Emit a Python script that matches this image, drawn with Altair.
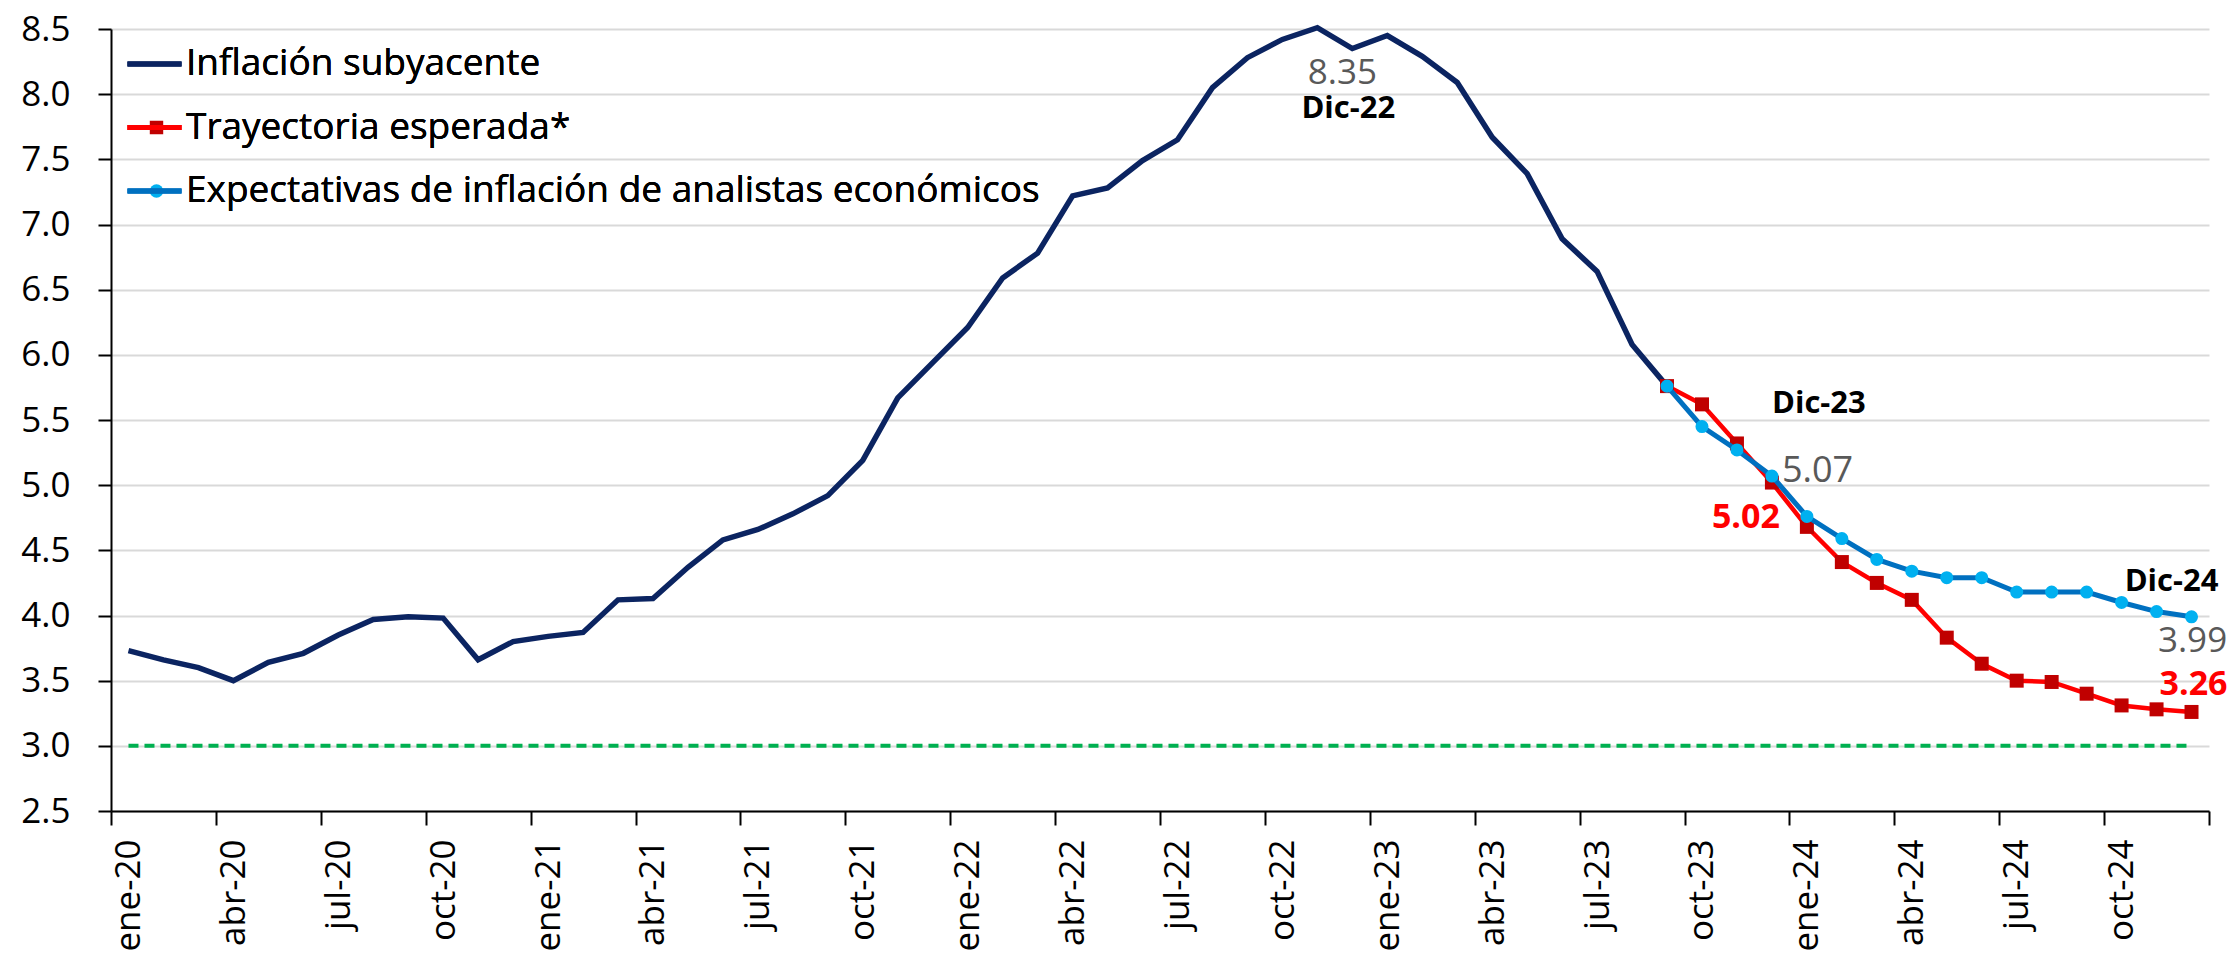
import json
import altair as alt
import pandas as pd

# ---------------- data ----------------
serie_names = ["Inflación subyacente", "Trayectoria esperada*",
               "Expectativas de inflación de analistas económicos"]

# monthly core inflation, ene-20 .. sep-23
core = [3.73, 3.66, 3.60, 3.50, 3.64, 3.71, 3.85, 3.97, 3.99, 3.98, 3.66, 3.80,
        3.84, 3.87, 4.12, 4.13, 4.37, 4.58, 4.66, 4.78, 4.92, 5.19, 5.67, 5.94,
        6.21, 6.59, 6.78, 7.22, 7.28, 7.49, 7.65, 8.05, 8.28, 8.42, 8.51, 8.35,
        8.45, 8.29, 8.09, 7.67, 7.39, 6.89, 6.64, 6.08, 5.76]
# sep-23 .. dic-24
trayectoria = [5.76, 5.62, 5.32, 5.02, 4.68, 4.41, 4.25, 4.12, 3.83, 3.63, 3.50,
               3.49, 3.40, 3.31, 3.28, 3.26]
expectativas = [5.76, 5.45, 5.27, 5.07, 4.76, 4.59, 4.43, 4.34, 4.29, 4.29, 4.18,
                4.18, 4.18, 4.10, 4.03, 3.99]
forecast_start = 44          # month index of sep-23
n_months = 60                # ene-20 .. dic-24
target = [3.0] * n_months    # inflation target

tick_labels = ["ene-20", "abr-20", "jul-20", "oct-20", "ene-21", "abr-21", "jul-21",
               "oct-21", "ene-22", "abr-22", "jul-22", "oct-22", "ene-23", "abr-23",
               "jul-23", "oct-23", "ene-24", "abr-24", "jul-24", "oct-24"]
tick_months = [0, 3, 6, 9, 12, 15, 18, 21, 24, 27, 30, 33, 36, 39, 42, 45, 48, 51,
               54, 57, 60]
y_ticks = [2.5, 3.0, 3.5, 4.0, 4.5, 5.0, 5.5, 6.0, 6.5, 7.0, 7.5, 8.0, 8.5]

colors_line = ["#0B2461", "#FF0000", "#0070C0"]
colors_marker = ["rgba(0,0,0,0)", "#C00000", "#00B0F0"]
shapes_marker = ["circle", "square", "circle"]

# ---------------- frames ----------------
df_core = pd.DataFrame({"x": [i + 0.5 for i in range(len(core))], "value": core,
                        "serie": serie_names[0]})
df_tray = pd.DataFrame({"x": [forecast_start + i + 0.5 for i in range(len(trayectoria))],
                        "value": trayectoria, "serie": serie_names[1]})
df_exp = pd.DataFrame({"x": [forecast_start + i + 0.5 for i in range(len(expectativas))],
                       "value": expectativas, "serie": serie_names[2]})
df_target = pd.DataFrame({"x": [i + 0.5 for i in range(n_months)], "value": target})

W, H = 2098, 782
FONT = "Open Sans"

label_expr = "datum.value < 60 ? " + json.dumps(tick_labels) + "[round(datum.value / 3)] : ''"

x_enc = alt.X("x:Q", scale=alt.Scale(domain=[0, n_months], nice=False, zero=False),
              axis=alt.Axis(values=tick_months, labelExpr=label_expr, labelAngle=-90,
                            labelOffset=W / n_months / 2, labelFlush=False,
                            labelOverlap=False, labelFont=FONT, labelFontSize=35,
                            labelColor="black", labelPadding=14, tickSize=14,
                            tickWidth=2, tickColor="black", domainColor="black",
                            domainWidth=2, grid=False, title=None))
y_enc = alt.Y("value:Q", scale=alt.Scale(domain=[2.5, 8.5], nice=False, zero=False),
              axis=alt.Axis(values=y_ticks, format=".1f", labelFont=FONT,
                            labelFontSize=35, labelColor="black", labelPadding=28,
                            tickSize=13, tickWidth=2, tickColor="black",
                            domainColor="black", domainWidth=2, grid=True,
                            gridColor="#D9D9D9", gridWidth=2, title=None))

line_legend = alt.Legend(orient="none", legendX=14, legendY=10, title=None,
                         symbolType="stroke", symbolSize=2916, symbolStrokeWidth=5,
                         labelFont=FONT, labelFontSize=37, labelColor="black",
                         labelOffset=2, labelLimit=2000, rowPadding=13.5,
                         clipHeight=50, padding=0)
marker_legend = alt.Legend(orient="none", legendX=27, legendY=10, title=None,
                           symbolSize=180, symbolStrokeWidth=0, symbolOpacity=1,
                           labelFont=FONT, labelFontSize=37, labelExpr="''",
                           labelOffset=2, labelLimit=2000,
                           rowPadding=13.5, clipHeight=50, padding=0)

color_enc = alt.Color("serie:N", scale=alt.Scale(domain=serie_names, range=colors_line),
                      legend=line_legend)
fill_enc = alt.Fill("serie:N", scale=alt.Scale(domain=serie_names, range=colors_marker),
                    legend=marker_legend)
shape_enc = alt.Shape("serie:N", scale=alt.Scale(domain=serie_names, range=shapes_marker),
                      legend=marker_legend)

target_layer = alt.Chart(df_target).mark_line(
    color="#00B050", strokeWidth=4, strokeDash=[10, 6]).encode(x=x_enc, y=y_enc)
core_layer = alt.Chart(df_core).mark_line(strokeWidth=5.5).encode(
    x=x_enc, y=y_enc, color=color_enc)
tray_line = alt.Chart(df_tray).mark_line(strokeWidth=4.5).encode(
    x=x_enc, y=y_enc, color=color_enc)
tray_pts = alt.Chart(df_tray).mark_point(filled=True, opacity=1, size=196).encode(
    x=x_enc, y=y_enc, fill=fill_enc, shape=shape_enc)
exp_line = alt.Chart(df_exp).mark_line(strokeWidth=5).encode(
    x=x_enc, y=y_enc, color=color_enc)
exp_pts = alt.Chart(df_exp).mark_point(filled=True, opacity=1, size=170).encode(
    x=x_enc, y=y_enc, fill=fill_enc, shape=shape_enc)

# ---------------- annotations ----------------
ann_text = ["8.35", "Dic-22", "Dic-23", "5.07", "5.02", "Dic-24", "3.99", "3.26"]
ann_x = [35.5, 35.5, 47.5, 47.5, 47.5, 59.5, 59.5, 59.5]
ann_y = [core[35], core[35], expectativas[3], expectativas[3], trayectoria[3],
         expectativas[15], expectativas[15], trayectoria[15]]
ann_style = [  # dx, dy, color, weight, size, align
    (-10, 35, "#595959", "normal", 35, "center"),
    (-4, 69, "black", "bold", 31, "center"),
    (47, -63, "black", "bold", 31, "center"),
    (10, 6, "#595959", "normal", 36, "left"),
    (8, 45, "#FF0000", "bold", 34, "right"),
    (-20, -26, "black", "bold", 31, "center"),
    (1, 35, "#595959", "normal", 35, "center"),
    (2, -17, "#FF0000", "bold", 34, "center"),
]

ann_layers = []
for t, xv, yv, st in zip(ann_text, ann_x, ann_y, ann_style):
    dx, dy, col, wt, sz, al = st
    d = pd.DataFrame({"x": [xv], "value": [yv], "t": [t]})
    ann_layers.append(
        alt.Chart(d).mark_text(dx=dx, dy=dy, color=col, fontWeight=wt, fontSize=sz,
                               font=FONT, align=al, baseline="alphabetic").encode(
            x=alt.X("x:Q"), y=alt.Y("value:Q"), text="t:N"))

chart = alt.layer(target_layer, core_layer, tray_line, tray_pts, exp_line, exp_pts,
                  *ann_layers).resolve_scale(color="independent").properties(
    width=W, height=H,
    autosize=alt.AutoSizeParams(type="none"),
    padding={"left": 103, "top": 21, "right": 20, "bottom": 148},
    background="white",
).configure_view(stroke=None)

chart.save("out.html", embed_options={"renderer": "svg", "actions": False})
